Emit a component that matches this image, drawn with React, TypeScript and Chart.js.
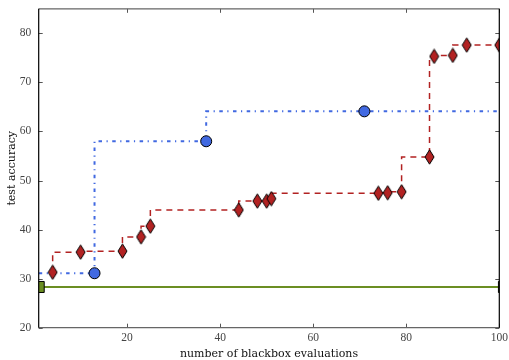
import React, { useEffect, useRef } from "react";
import { Chart, registerables } from "chart.js";

Chart.register(...registerables);

// ---- data ----
const redX = [4, 10, 19, 23, 25, 44, 48, 50, 51, 74, 76, 79, 85, 86, 90, 93, 100];
const redY = [31.3, 35.4, 35.6, 38.5, 40.7, 44.0, 45.8, 45.8, 46.3, 47.4, 47.5, 47.7, 54.8, 75.3, 75.5, 77.6, 77.6];

const blueLineX = [1, 13, 37, 71, 100];
const blueLineY = [31.1, 31.1, 58.0, 64.1, 64.1];
const blueMarkX = [13, 37, 71];
const blueMarkY = [31.1, 58.0, 64.1];

const greenX = [1, 101];
const greenY = [28.3, 28.3];

const xTicks = [20, 40, 60, 80, 100];
const yTicks = [20, 30, 40, 50, 60, 70, 80];
const xRange = [1, 100];
const yRange = [20, 85];

const xTitle = "number of blackbox evaluations";
const yTitle = "test accuracy";

const RED = "#b22222";
const BLUE = "#4169e1";
const GREEN = "#6b8e23";

function pts(xs: number[], ys: number[]) {
  return xs.map((x, i) => ({ x, y: ys[i] }));
}

function thinDiamond(): HTMLCanvasElement {
  const w = 11;
  const h = 16;
  const c = document.createElement("canvas");
  c.width = w;
  c.height = h;
  const g = c.getContext("2d")!;
  g.beginPath();
  g.moveTo(w / 2, 0.8);
  g.lineTo(w - 1, h / 2);
  g.lineTo(w / 2, h - 0.8);
  g.lineTo(1, h / 2);
  g.closePath();
  g.fillStyle = RED;
  g.fill();
  g.lineWidth = 1;
  g.strokeStyle = "#000";
  g.stroke();
  return c;
}

const framePlugin = {
  id: "frame",
  afterDatasetsDraw(chart: any) {
    const { ctx, chartArea: a, scales } = chart;
    const xs = scales.x;
    const ys = scales.y;
    ctx.save();
    const L = 4;
    ctx.strokeStyle = "#555";
    ctx.lineWidth = 1;
    ctx.beginPath();
    for (const t of xTicks) {
      const px = Math.round(xs.getPixelForValue(t)) + 0.5;
      ctx.moveTo(px, a.bottom);
      ctx.lineTo(px, a.bottom - L);
      ctx.moveTo(px, a.top);
      ctx.lineTo(px, a.top + L);
    }
    for (const t of yTicks) {
      const py = Math.round(ys.getPixelForValue(t)) + 0.5;
      ctx.moveTo(a.left, py);
      ctx.lineTo(a.left + L, py);
      ctx.moveTo(a.right, py);
      ctx.lineTo(a.right - L, py);
    }
    ctx.stroke();
    ctx.strokeStyle = "#666";
    ctx.lineWidth = 1.2;
    ctx.beginPath();
    ctx.moveTo(a.left, a.top);
    ctx.lineTo(a.right, a.top);
    ctx.moveTo(a.left, a.bottom);
    ctx.lineTo(a.right, a.bottom);
    ctx.stroke();
    ctx.strokeStyle = "#000";
    ctx.beginPath();
    ctx.moveTo(a.left, a.top);
    ctx.lineTo(a.left, a.bottom);
    ctx.moveTo(a.right, a.top);
    ctx.lineTo(a.right, a.bottom);
    ctx.stroke();
    ctx.restore();
  },
};

export default function App() {
  const ref = useRef<HTMLCanvasElement>(null);
  useEffect(() => {
    document.body.style.margin = "0";
    const canvas = ref.current!;
    const diamond = thinDiamond();
    const chart = new Chart(canvas, {
      type: "scatter",
      data: {
        datasets: [
          {
            data: pts(blueMarkX, blueMarkY),
            showLine: false,
            pointStyle: "circle",
            pointRadius: 5.5,
            pointBackgroundColor: BLUE,
            pointBorderColor: "#000",
            pointBorderWidth: 1,
            order: 0,
            clip: 0,
          } as any,
          {
            data: pts(redX, redY),
            showLine: true,
            stepped: "after",
            borderColor: RED,
            borderWidth: 1.5,
            borderDash: [6, 5],
            pointStyle: diamond,
            pointRadius: 6,
            order: 1,
            clip: 0,
          } as any,
          {
            data: pts(blueLineX, blueLineY),
            showLine: true,
            stepped: "after",
            borderColor: BLUE,
            borderWidth: 2,
            borderDash: [3.5, 4.5, 1.2, 4.5],
            pointRadius: 0,
            order: 2,
            clip: 0,
          } as any,
          {
            data: pts(greenX, greenY),
            showLine: true,
            borderColor: GREEN,
            borderWidth: 2,
            pointStyle: "rect",
            pointRadius: 7.8,
            pointBackgroundColor: GREEN,
            pointBorderColor: "#000",
            pointBorderWidth: 1,
            order: 3,
            clip: 0,
          } as any,
        ],
      },
      options: {
        responsive: false,
        animation: false,
        layout: { padding: { top: 6.3, right: 9.7, left: 0, bottom: 0 } },
        plugins: { legend: { display: false }, tooltip: { enabled: false } },
        scales: {
          x: {
            type: "linear",
            min: xRange[0],
            max: xRange[1],
            afterBuildTicks: (s: any) => {
              s.ticks = xTicks.map((v) => ({ value: v }));
            },
            afterFit: (s: any) => {
              s.height = 32.3;
              s.paddingLeft = 0;
              s.paddingRight = 0;
            },
            grid: { display: false, drawTicks: false },
            border: { display: false },
            ticks: {
              padding: 3,
              color: "#444",
              font: { family: "'Liberation Serif', serif", size: 11.5 },
              maxRotation: 0,
              autoSkip: false,
            },
            title: {
              display: true,
              text: xTitle,
              color: "#111",
              font: { family: "'DejaVu Serif', serif", size: 11, lineHeight: 1.2 },
              padding: { top: 0, bottom: -0.5 },
            },
          },
          y: {
            type: "linear",
            min: yRange[0],
            max: yRange[1],
            afterBuildTicks: (s: any) => {
              s.ticks = yTicks.map((v) => ({ value: v }));
            },
            afterFit: (s: any) => {
              s.width = 38.7;
              s.paddingTop = 0;
              s.paddingBottom = 0;
            },
            grid: { display: false, drawTicks: false },
            border: { display: false },
            ticks: {
              padding: 7.5,
              color: "#444",
              font: { family: "'Liberation Serif', serif", size: 11.5 },
              autoSkip: false,
            },
            title: {
              display: true,
              text: yTitle,
              color: "#111",
              font: { family: "'DejaVu Serif', serif", size: 11, lineHeight: 1.2 },
              padding: { top: 6, bottom: 0 },
            },
          },
        },
      },
      plugins: [framePlugin],
    });
    return () => chart.destroy();
  }, []);
  return (
    <div style={{ width: 509, height: 360, background: "#fff" }}>
      <canvas ref={ref} width={509} height={360} style={{ display: "block", width: 509, height: 360 }} />
    </div>
  );
}
